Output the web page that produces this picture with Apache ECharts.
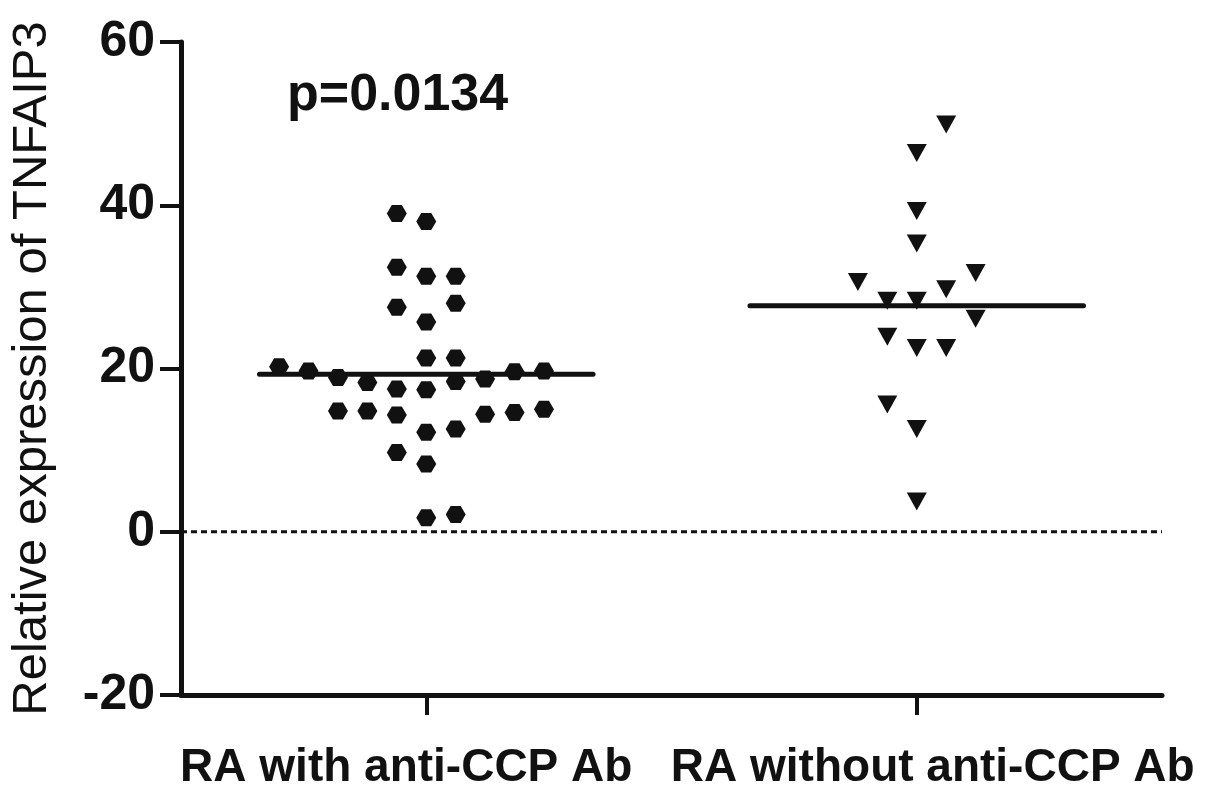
<!DOCTYPE html>
<html>
<head>
<meta charset="utf-8">
<script src="https://cdn.jsdelivr.net/npm/echarts@6/dist/echarts.min.js"></script>
<style>
  html, body { margin: 0; padding: 0; background: #fff; }
  #chart { width: 1205px; height: 793px; }
</style>
</head>
<body>
<div id="chart"></div>
<script>
// groups on the x axis
const groups = ['RA with anti-CCP Ab', 'RA without anti-CCP Ab'];

// RA with anti-CCP Ab: values and their jitter column
const withValues = [20.2, 19.7, 18.9, 14.8, 18.3, 14.8,
    39.0, 32.4, 27.5, 17.5, 14.3, 9.7,
    38.0, 31.3, 25.7, 21.3, 17.4, 12.2, 8.3, 1.7,
    31.3, 28.0, 21.3, 18.4, 12.6, 2.1,
    18.7, 14.4, 19.6, 14.6, 19.7, 15.0];
const withCols = [-5, -4, -3, -3, -2, -2,
    -1, -1, -1, -1, -1, -1,
    0, 0, 0, 0, 0, 0, 0, 0,
    1, 1, 1, 1, 1, 1,
    2, 2, 3, 3, 4, 4];

// RA without anti-CCP Ab
const withoutValues = [30.6, 28.3, 23.9, 15.6,
    46.4, 39.3, 35.3, 28.3, 22.5, 12.6, 3.7,
    49.9, 29.7, 22.5, 31.7, 26.1];
const withoutCols = [-2, -1, -1, -1,
    0, 0, 0, 0, 0, 0, 0,
    1, 1, 1, 2, 2];

// median lines
const medians = [19.3, 27.7];
const pText = 'p=0.0134';

const yTicks = { min: -20, max: 60, interval: 20 };

const FONT = '"Liberation Sans", Arial, Helvetica, sans-serif';
const INK = '#111';
const step = 0.06;      // jitter column width in x units
const halfLine = 0.34;  // half width of median line

const toPoints = (g, vals, cols) => vals.map((v, i) => [g + cols[i] * step, v]);

const chart = echarts.init(document.getElementById('chart'));

chart.setOption({
    backgroundColor: '#fff',
    animation: false,
    grid: { left: 180, top: 42, width: 982, bottom: 98 },
    xAxis: [
        {
            type: 'category',
            data: groups,
            boundaryGap: true,
            axisLine: { onZero: false, lineStyle: { color: INK, width: 5 } },
            axisTick: { show: true, interval: 0, alignWithLabel: true, length: 20, lineStyle: { color: INK, width: 4 } },
            axisLabel: {
                margin: 50,
                interval: 0,
                formatter: (v, i) => (i === 0 ? '{l|' + v + '}' : '{r|' + v + '}'),
                rich: {
                    l: { fontFamily: FONT, fontWeight: 'bold', fontSize: 46, color: INK, padding: [0, 40, 0, 0] },
                    r: { fontFamily: FONT, fontWeight: 'bold', fontSize: 46, color: INK, padding: [0, 0, 0, 32] }
                }
            },
            splitLine: { show: false }
        },
        {
            type: 'value',
            min: 0.5,
            max: 2.5,
            show: false
        }
    ],
    yAxis: {
        type: 'value',
        min: yTicks.min,
        max: yTicks.max,
        interval: yTicks.interval,
        name: 'Relative expression of TNFAIP3',
        nameLocation: 'middle',
        nameGap: 124,
        nameTextStyle: { fontFamily: FONT, fontSize: 49, color: INK },
        axisLine: { show: true, onZero: false, lineStyle: { color: INK, width: 5 } },
        axisTick: { show: true, length: 21, lineStyle: { color: INK, width: 4 } },
        axisLabel: { margin: 26, fontFamily: FONT, fontWeight: 'bold', fontSize: 50, color: INK },
        splitLine: { show: false }
    },
    graphic: [{
        type: 'text',
        left: 287,
        top: 70,
        style: { text: pText, font: 'bold 52px ' + FONT, fill: INK }
    }],
    series: [
        {
            type: 'line',
            xAxisIndex: 1,
            data: [[0.5, 0], [2.5, 0]],
            symbol: 'none',
            lineStyle: { color: INK, width: 3, type: [6, 4] },
            silent: true
        },
        {
            type: 'scatter',
            xAxisIndex: 1,
            data: toPoints(1, withValues, withCols),
            symbol: 'path://M-1,0 L-0.5,-0.866 L0.5,-0.866 L1,0 L0.5,0.866 L-0.5,0.866 Z',
            symbolSize: [20, 17],
            itemStyle: { color: INK, opacity: 1 }
        },
        {
            type: 'scatter',
            xAxisIndex: 1,
            data: toPoints(2, withoutValues, withoutCols),
            symbol: 'path://M0,0 L10,0 L5,9 Z',
            symbolSize: [20, 18],
            itemStyle: { color: INK, opacity: 1 }
        },
        {
            type: 'line',
            xAxisIndex: 1,
            data: [[1 - halfLine, medians[0]], [1 + halfLine, medians[0]]],
            symbol: 'none',
            lineStyle: { color: INK, width: 5, cap: 'round' },
            z: 5
        },
        {
            type: 'line',
            xAxisIndex: 1,
            data: [[2 - halfLine, medians[1]], [2 + halfLine, medians[1]]],
            symbol: 'none',
            lineStyle: { color: INK, width: 5, cap: 'round' },
            z: 5
        }
    ]
});
</script>
</body>
</html>
